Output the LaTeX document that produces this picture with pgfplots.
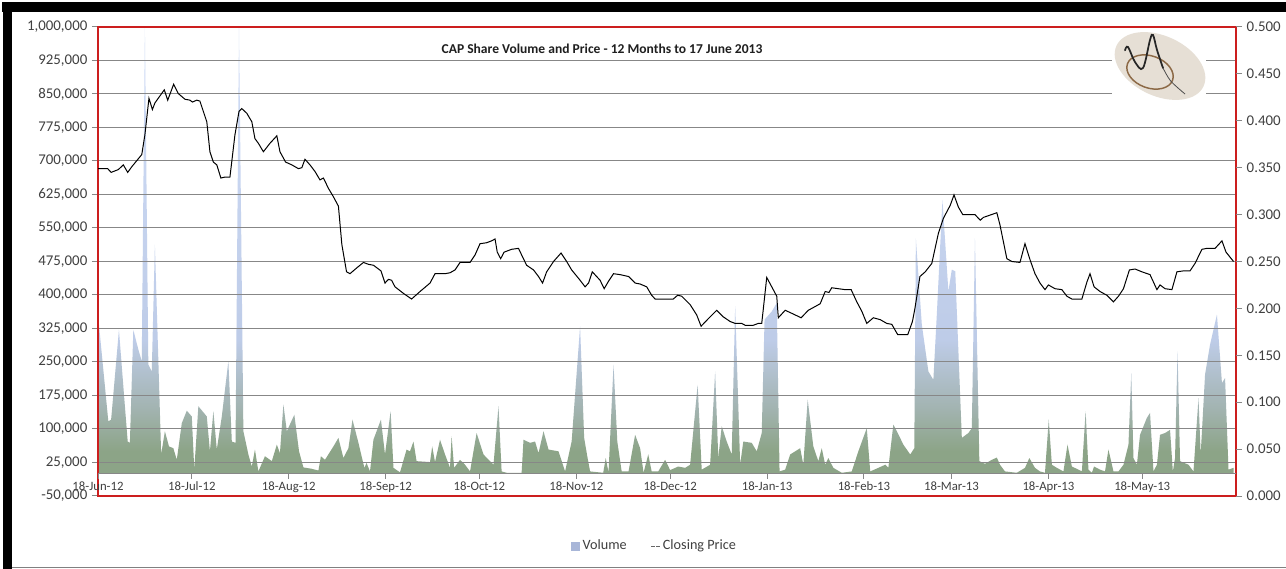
\documentclass[border=0pt]{standalone}
\usepackage{fontspec}
\setmainfont{Carlito}
\usepackage{pgfplots}
\usepackage{pgfplotstable}
\pgfplotsset{compat=1.18}

\definecolor{volgreen}{RGB}{140,164,135}
\definecolor{volmid}{RGB}{163,180,178}
\definecolor{volblue}{RGB}{190,204,232}
\definecolor{voltop}{RGB}{208,221,247}
\definecolor{volkey}{RGB}{168,182,216}
\definecolor{framered}{RGB}{204,30,30}
\definecolor{gridgray}{RGB}{135,135,135}
\definecolor{labelgray}{RGB}{64,64,64}
\definecolor{logobeige}{RGB}{230,223,213}
\definecolor{logobrown}{RGB}{140,105,70}

\pgfdeclareverticalshading{volshade}{100bp}{color(0bp)=(volgreen); color(25bp)=(volgreen); color(27.5bp)=(volgreen); color(32.5bp)=(volmid); color(40bp)=(volblue); color(75bp)=(voltop); color(100bp)=(voltop)}

\pgfplotstableread{
day vol
0 356000
3.3 117000
4.2 121000
6.7 322000
8.4 169000
9.5 72000
10.2 69000
11.3 322000
12.9 278000
14.0 252000
15.0 1000000
16.1 244000
17.2 229000
18.2 513000
20.2 43000
21.4 95000
22.7 61000
24.1 57000
25.2 31000
26.8 113000
28.4 141000
30.0 128000
30.8 9000
32.1 151000
34.8 128000
35.8 50000
36.9 140000
38.0 54000
39.6 128000
41.7 252000
42.8 72000
44.0 69000
45.1 1000000
46.5 95000
48.1 43000
49.2 16000
50.2 54000
51.3 5000
53.4 39000
55.6 28000
57.2 65000
58.2 46000
59.3 155000
60.4 95000
62.8 132000
64.3 50000
65.7 14000
68.3 11000
70.5 7000
71.3 39000
72.6 31000
75.3 61000
76.9 80000
78.5 35000
80.1 57000
81.4 121000
83.3 69000
85.2 13000
85.9 24000
87.0 5000
88.1 76000
90.5 121000
91.8 43000
93.6 140000
94.5 13000
96.6 3000
98.7 54000
99.8 50000
100.9 72000
101.9 28000
106.2 26000
106.9 61000
107.8 26000
109.4 76000
111.0 43000
112.6 13000
113.1 84000
113.9 13000
115.8 31000
117.4 20000
119.0 5000
121.1 91000
123.3 43000
126.5 20000
128.1 151000
129.1 5000
130.7 2000
135.5 2000
136.1 76000
138.2 69000
139.8 72000
140.9 46000
142.5 95000
144.1 54000
147.3 50000
149.4 5000
151.5 72000
154.2 330000
155.5 80000
156.5 39000
157.4 5000
161.6 2000
162.4 35000
163.3 3000
164.9 244000
166.1 72000
167.5 5000
169.7 5000
171.8 87000
173.4 57000
174.5 2000
176.0 43000
177.1 5000
179.2 5000
181.4 31000
183.0 8000
185.6 16000
187.8 13000
189.4 20000
191.8 199000
193.1 9000
195.8 20000
197.4 229000
198.4 35000
199.5 106000
201.1 72000
202.7 43000
203.8 375000
205.4 20000
206.4 72000
209.1 69000
210.7 50000
212.3 91000
213.2 345000
215.5 363000
217.1 382000
218.0 5000
219.8 9000
221.4 43000
224.6 57000
225.6 20000
227.0 166000
228.8 61000
230.4 28000
231.5 57000
232.6 20000
233.6 35000
235.2 13000
237.9 2000
241.1 5000
243.2 50000
245.9 102000
247.0 5000
249.6 13000
251.8 20000
252.8 13000
254.4 110000
255.8 91000
257.6 65000
259.8 43000
261.1 57000
261.6 527000
263.5 334000
265.6 229000
267.2 210000
268.3 356000
270.1 613000
272.0 408000
273.1 457000
274.2 453000
276.3 80000
278.4 91000
279.5 102000
280.5 527000
281.9 28000
283.7 22000
285.9 31000
287.5 36000
288.5 20000
290.1 5000
293.9 2000
296.5 13000
297.9 35000
299.7 13000
301.3 5000
302.9 2000
304.1 121000
305.1 20000
306.7 13000
308.8 5000
310.1 65000
311.5 16000
313.6 9000
314.7 5000
315.9 140000
316.8 9000
317.9 2000
318.6 16000
320.5 9000
322.1 5000
323.2 54000
324.8 5000
326.4 5000
328.0 20000
329.6 65000
330.5 225000
331.2 35000
332.3 20000
333.3 87000
335.5 125000
336.5 136000
337.6 5000
338.7 20000
339.7 87000
341.3 91000
342.9 98000
343.8 5000
344.5 35000
345.3 274000
346.1 28000
348.8 20000
350.4 5000
352.0 169000
352.7 43000
354.1 222000
355.7 289000
357.9 356000
359.5 203000
360.5 214000
361.6 9000
363.2 13000
}\voldata

\pgfplotstableread{
day price
0 0.349
3.1 0.349
4.2 0.345
6.5 0.348
8.1 0.353
9.5 0.345
10.8 0.351
14.0 0.364
15.0 0.385
16.3 0.424
17.4 0.412
18.2 0.419
21.2 0.433
22.3 0.422
24.2 0.439
25.7 0.429
27.8 0.423
29.4 0.422
30.2 0.420
31.6 0.422
32.6 0.421
34.8 0.399
35.8 0.367
36.9 0.356
38.0 0.353
39.3 0.339
40.6 0.340
42.2 0.340
43.8 0.385
45.1 0.410
46.0 0.413
47.6 0.408
49.2 0.399
50.2 0.381
51.3 0.376
52.9 0.367
55.0 0.376
57.2 0.384
58.2 0.367
60.0 0.356
62.0 0.353
64.1 0.349
65.2 0.350
66.2 0.359
67.8 0.353
69.4 0.346
71.0 0.337
72.1 0.339
73.7 0.328
75.3 0.319
76.9 0.309
78.0 0.268
79.5 0.239
80.6 0.237
82.7 0.243
84.9 0.249
86.5 0.247
88.1 0.246
90.5 0.240
91.8 0.227
92.9 0.231
93.9 0.230
95.0 0.223
97.7 0.216
100.3 0.210
103.0 0.218
106.2 0.227
107.8 0.237
111.0 0.237
112.6 0.238
114.2 0.241
115.8 0.249
119.0 0.249
120.6 0.257
122.2 0.269
124.3 0.270
125.9 0.272
127.0 0.274
127.7 0.260
128.8 0.253
129.9 0.260
132.3 0.263
134.5 0.264
135.5 0.257
137.1 0.246
139.3 0.241
140.9 0.234
142.2 0.227
143.5 0.239
145.7 0.250
148.1 0.259
149.9 0.250
151.5 0.241
154.2 0.230
155.8 0.223
156.9 0.227
158.1 0.239
160.6 0.230
161.9 0.221
163.3 0.229
164.9 0.237
167.0 0.236
169.7 0.234
171.8 0.227
173.4 0.226
175.5 0.223
177.1 0.214
178.2 0.210
181.4 0.210
184.0 0.210
185.4 0.214
186.7 0.213
189.4 0.204
191.5 0.193
192.9 0.181
195.2 0.189
197.9 0.198
200.0 0.191
202.2 0.186
203.8 0.184
205.9 0.184
207.0 0.182
209.6 0.182
211.2 0.184
212.3 0.184
213.9 0.233
215.5 0.223
217.1 0.213
217.6 0.190
219.8 0.198
222.4 0.194
224.9 0.190
227.2 0.198
229.4 0.202
231.0 0.205
232.6 0.218
233.8 0.217
234.7 0.222
236.8 0.221
239.0 0.220
240.9 0.220
242.7 0.207
244.3 0.197
245.9 0.184
248.0 0.190
250.2 0.188
252.3 0.184
253.9 0.183
255.8 0.172
257.3 0.172
259.0 0.172
260.5 0.186
261.3 0.200
262.9 0.234
264.6 0.239
266.7 0.248
268.8 0.280
270.4 0.296
272.6 0.310
273.8 0.321
275.2 0.308
276.6 0.300
280.5 0.300
282.2 0.294
283.2 0.297
287.5 0.302
288.5 0.289
290.7 0.253
292.3 0.250
294.9 0.249
296.5 0.269
298.1 0.252
299.7 0.237
301.3 0.227
302.9 0.220
304.0 0.225
306.1 0.221
308.3 0.220
309.9 0.213
311.5 0.210
314.7 0.210
316.3 0.228
317.3 0.237
318.6 0.223
320.5 0.218
322.7 0.214
324.8 0.207
326.4 0.213
328.0 0.221
329.9 0.241
331.7 0.242
333.9 0.239
336.5 0.236
338.7 0.220
339.7 0.225
341.3 0.221
343.5 0.220
345.1 0.239
347.2 0.240
349.3 0.240
350.9 0.248
353.1 0.263
354.7 0.264
357.3 0.264
359.5 0.272
360.8 0.260
363.2 0.250
}\pricedata

\begin{document}
\begin{tikzpicture}
\useasboundingbox (0,0) rectangle (964.5bp,426.75bp);
\fill[white] (0,0) rectangle (964.5bp,426.75bp);
% screenshot frame
\fill[black] (1.5bp,417.75bp) rectangle (964.5bp,425.25bp);
\fill[black] (2.25bp,0bp) rectangle (9bp,425.25bp);
\draw[gray, line width=0.75bp] (9bp,1.5bp) -- (964.5bp,1.5bp);

% volume axis
\begin{axis}[
  at={(73.5bp,54.75bp)}, anchor=south west, scale only axis,
  width=853.5bp, height=351.75bp,
  xmin=0, xmax=364, ymin=-50000, ymax=1000000,
  xtick=\empty,
  ytick={-50000,25000,100000,175000,250000,325000,400000,475000,550000,625000,700000,775000,850000,925000,1000000},
  ytick pos=left,
  scaled y ticks=false,
  yticklabel style={/pgf/number format/fixed, /pgf/number format/1000 sep={,}, /pgf/number format/assume math mode=true, font=\fontsize{11.2}{13}\selectfont, text=labelgray},
  ymajorgrids, grid style={gridgray, line width=0.75bp},
  axis line style={framered, line width=1.3bp},
  tick align=outside, major tick length=4.5bp,
  every tick/.style={gridgray, line width=0.75bp},
  axis on top,
]
\addplot[draw=none, shade, shading=volshade] table[x=day, y=vol]{\voldata} \closedcycle;
\end{axis}

% date axis at zero volume
\begin{axis}[
  at={(73.5bp,54.75bp)}, anchor=south west, scale only axis,
  width=853.5bp, height=351.75bp,
  xmin=0, xmax=364, ymin=-50000, ymax=1000000,
  axis x line=middle, axis y line=none,
  x axis line style={-, gridgray, line width=0.75bp},
  xtick={0,30,61,92,122,153,183,214,245,273,304,334},
  xticklabels={18-Jun-12,18-Jul-12,18-Aug-12,18-Sep-12,18-Oct-12,18-Nov-12,18-Dec-12,18-Jan-13,18-Feb-13,18-Mar-13,18-Apr-13,18-May-13},
  ytick=\empty,
  xtick align=outside, major tick length=4bp,
  every tick/.style={gridgray, line width=0.75bp},
  xticklabel style={font=\fontsize{9.6}{11}\selectfont, text=labelgray, inner sep=2bp},
  hide obscured x ticks=false,
]
\end{axis}

% price axis
\begin{axis}[
  at={(73.5bp,54.75bp)}, anchor=south west, scale only axis,
  width=853.5bp, height=351.75bp,
  xmin=0, xmax=364, ymin=0, ymax=0.5,
  axis x line=none, axis y line*=right,
  y axis line style={draw=none},
  ytick={0,0.05,0.1,0.15,0.2,0.25,0.3,0.35,0.4,0.45,0.5},
  yticklabel style={/pgf/number format/fixed, /pgf/number format/fixed zerofill, /pgf/number format/precision=3, /pgf/number format/assume math mode=true, font=\fontsize{11.2}{13}\selectfont, text=labelgray},
  tick align=outside, major tick length=4.5bp,
  every tick/.style={gridgray, line width=0.75bp},
  legend style={at={(0.4895,-0.1066)}, anchor=center, draw=none, fill=none,
    legend columns=2, font=\fontsize{10.7}{12}\selectfont, text=labelgray,
    /tikz/every even column/.append style={column sep=16bp}},
  legend cell align=left,
]
\addlegendimage{legend image code/.code={\fill[volkey] (0bp,-3bp) rectangle (6bp,3bp);}}
\addlegendentry{Volume}
\addplot[black, line width=0.75bp, mark=none,
  legend image code/.code={\draw[black!60, line width=0.55bp] (0bp,0bp) -- (2.6bp,0bp) (4bp,0bp) -- (6.6bp,0bp);}]
  table[x=day, y=price]{\pricedata};
\addlegendentry{Closing Price}
\end{axis}

% logo
\fill[white] (834bp,351.75bp) rectangle (904.5bp,405bp);
\fill[logobeige, rotate around={-25:(870bp,377.25bp)}] (870bp,377.25bp) ellipse (36bp and 22.5bp);
\draw[logobrown, line width=1.1bp, rotate around={-20:(862.5bp,372.75bp)}] (862.5bp,372.75bp) ellipse (18bp and 12bp);
\draw[black!85, line width=1.3bp, line cap=round] plot[smooth, tension=0.6] coordinates {(843.75bp,389bp) (846bp,391.5bp) (851.25bp,380.25bp) (857.25bp,375.75bp) (862.5bp,396.75bp) (864.75bp,400.5bp) (867.75bp,389.25bp) (872.25bp,375.75bp)};
\draw[black!70, line width=0.6bp] plot[smooth] coordinates {(872.25bp,375.75bp) (878bp,366bp) (888.75bp,356.25bp)};

% title
\node[font=\bfseries\fontsize{10.2}{12}\selectfont, text=black!88] at (451.5bp,390bp) {CAP Share Volume and Price - 12 Months to 17 June 2013};
\end{tikzpicture}
\end{document}
